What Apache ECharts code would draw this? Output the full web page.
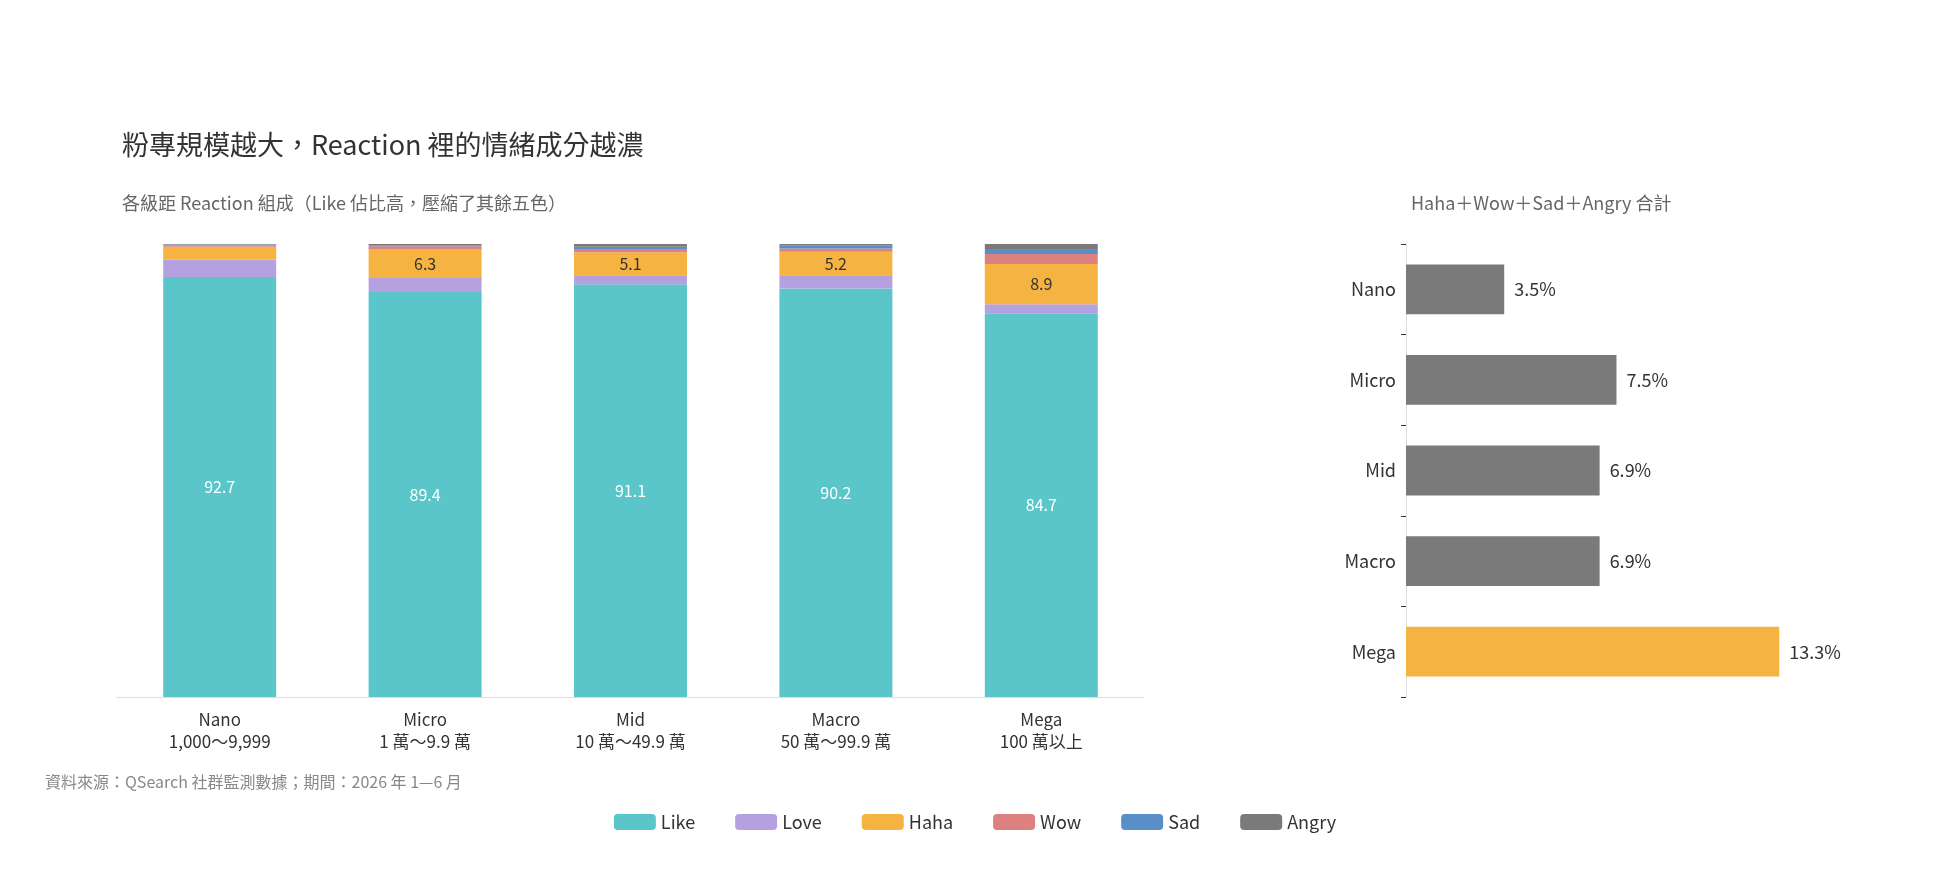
<!DOCTYPE html>
<html><head><meta charset="utf-8">
<script src="https://cdn.jsdelivr.net/npm/echarts@6/dist/echarts.min.js"></script>
<style>html,body{margin:0;background:#fff}#c{width:1950px;height:870px}</style>
</head><body><div id="c"></div>
<script>
const categories = ['Nano\n1,000～9,999', 'Micro\n1 萬～9.9 萬', 'Mid\n10 萬～49.9 萬', 'Macro\n50 萬～99.9 萬', 'Mega\n100 萬以上'];
const shortCats = ['Nano', 'Micro', 'Mid', 'Macro', 'Mega'];
const like = [92.7, 89.4, 91.1, 90.2, 84.7];
const love = [3.9, 3.1, 2.0, 2.9, 2.0];
const haha = [2.8, 6.3, 5.1, 5.2, 8.9];
const wow = [0.3, 0.7, 0.7, 0.7, 2.2];
const sad = [0.2, 0.2, 0.5, 0.7, 1.1];
const angry = [0.1, 0.3, 0.6, 0.3, 1.1];
const emoTotal = [3.5, 7.5, 6.9, 6.9, 13.3];

const font = '"Noto Sans CJK TC", "Noto Sans", sans-serif';
const colors = { Like: '#5bc6c9', Love: '#b6a1e0', Haha: '#f5b342', Wow: '#dd8080', Sad: '#5a8ec8', Angry: '#7a7a7a' };
const stackData = { Like: like, Love: love, Haha: haha, Wow: wow, Sad: sad, Angry: angry };

const chart = echarts.init(document.getElementById('c'));

const stackSeries = Object.keys(stackData).map(name => ({
    name, type: 'bar', stack: 'r', barWidth: '55%',
    xAxisIndex: 0, yAxisIndex: 0,
    itemStyle: { color: colors[name] },
    data: stackData[name].map(v => {
        let show = name === 'Like' || (name === 'Haha' && v >= 4);
        return { value: v, label: { show } };
    }),
    label: {
        position: 'inside', fontFamily: font, fontSize: 16,
        color: name === 'Like' ? '#fff' : '#333',
        formatter: p => p.value.toFixed(1)
    }
}));

chart.setOption({
    textStyle: { fontFamily: font },
    title: [
        { text: '粉專規模越大，Reaction 裡的情緒成分越濃', left: 117, top: 126, textStyle: { fontSize: 27, fontWeight: 'normal', color: '#333', fontFamily: font } },
        { text: '各級距 Reaction 組成（Like 佔比高，壓縮了其餘五色）', left: 117, top: 189, textStyle: { fontSize: 18, fontWeight: 'normal', color: '#666', fontFamily: font } },
        { text: 'Haha＋Wow＋Sad＋Angry 合計', left: 1406, top: 189, textStyle: { fontSize: 18, fontWeight: 'normal', color: '#666', fontFamily: font } },
        { text: '資料來源：QSearch 社群監測數據；期間：2026 年 1—6 月', left: 40, top: 769, textStyle: { fontSize: 16, fontWeight: 'normal', color: '#888', fontFamily: font } }
    ],
    legend: {
        bottom: 34, left: 'center', itemWidth: 42, itemHeight: 16, itemGap: 40,
        textStyle: { fontSize: 18, color: '#333', fontFamily: font },
        data: Object.keys(stackData)
    },
    grid: [
        { left: 117, right: 806, top: 244, bottom: 173 },
        { left: 1406, right: 95, top: 244, bottom: 173 }
    ],
    xAxis: [
        { type: 'category', gridIndex: 0, data: categories,
          axisLine: { lineStyle: { color: '#ddd' } }, axisTick: { show: false },
          axisLabel: { fontSize: 17, color: '#333', lineHeight: 22, margin: 12 } },
        { type: 'value', gridIndex: 1, min: 0, max: 16, show: false }
    ],
    yAxis: [
        { type: 'value', gridIndex: 0, min: 0, max: 100, show: false },
        { type: 'category', gridIndex: 1, inverse: true, data: shortCats,
          axisLine: { show: true, lineStyle: { color: '#ddd' } },
          axisTick: { show: true, lineStyle: { color: '#333' }, length: 5 },
          axisLabel: { fontSize: 18, color: '#333', margin: 10 } }
    ],
    series: stackSeries.concat([{
        type: 'bar', xAxisIndex: 1, yAxisIndex: 1, barWidth: '55%',
        data: emoTotal.map((v, i) => ({ value: v, itemStyle: { color: i === 4 ? colors.Haha : colors.Angry } })),
        label: { show: true, position: 'right', fontSize: 18, color: '#333', distance: 10, formatter: p => p.value.toFixed(1) + '%' }
    }])
});
</script></body></html>
